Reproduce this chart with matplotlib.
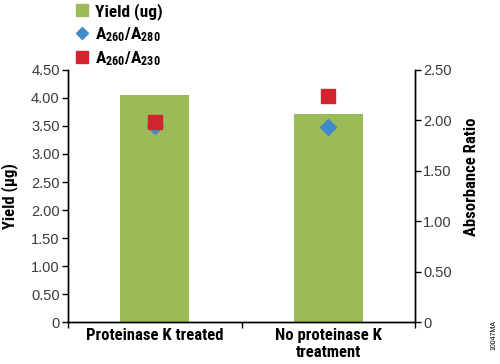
import matplotlib
matplotlib.use("Agg")
import matplotlib.pyplot as plt
from matplotlib import font_manager
from matplotlib.lines import Line2D

# data
categories = ["Proteinase K treated", "No proteinase K\ntreatment"]
yield_ug = [4.05, 3.71]
a260_280 = [1.94, 1.93]
a260_230 = [1.98, 2.24]
left_ticks = [0, 0.5, 1.0, 1.5, 2.0, 2.5, 3.0, 3.5, 4.0, 4.5]
right_ticks = [0, 0.5, 1.0, 1.5, 2.0, 2.5]

green = "#9bbb59"
blue = "#428bca"
red = "#d2232e"

names = {f.name for f in font_manager.fontManager.ttflist}
bold_font = "DejaVu Sans"
for cand in ["Roboto Condensed", "Liberation Sans Narrow", "IBM Plex Sans Condensed",
             "Fira Sans Condensed", "Encode Sans Condensed"]:
    if cand in names:
        bold_font = cand
        break
tick_font = "Liberation Sans"

plt.rcParams["mathtext.fontset"] = "custom"
plt.rcParams["mathtext.rm"] = bold_font + ":bold"
plt.rcParams["mathtext.it"] = bold_font + ":bold"
plt.rcParams["mathtext.bf"] = bold_font + ":bold"

fig = plt.figure(figsize=(5, 3.64), dpi=100)
ax = fig.add_axes([0.136, 0.115, 0.694, 0.693])
ax2 = ax.twinx()

x = list(range(len(categories)))
ax.bar(x, yield_ug, width=0.4, color=green, zorder=2)
ax2.plot(x, a260_280, linestyle="none", marker="D", ms=8.5, color=blue, zorder=3)
ax2.plot(x, a260_230, linestyle="none", marker="s", ms=9.5, color=red, zorder=4)

ax.set_xlim(-0.5, 1.5)
ax.set_ylim(0, 4.5)
ax2.set_ylim(0, 2.5)

ax.set_yticks(left_ticks)
ax.set_yticklabels(["0"] + ["%.2f" % v for v in left_ticks[1:]])
ax2.set_yticks(right_ticks)
ax2.set_yticklabels(["0"] + ["%.2f" % v for v in right_ticks[1:]])

ax.set_xticks([-0.5, 0.5, 1.5])
ax.set_xticklabels([])
ax.set_xticks(x, minor=True)
ax.set_xticklabels(categories, minor=True, fontfamily=bold_font,
                   fontweight="bold", fontsize=12, linespacing=1.2)
ax.tick_params(axis="x", which="minor", length=0, pad=4)
ax.tick_params(axis="x", which="major", length=4, width=1, direction="out")

for a in (ax, ax2):
    a.tick_params(axis="y", length=4, width=1, direction="out", pad=2,
                  labelsize=10.5, labelcolor="#3a3a3a")
    for lab in a.get_yticklabels():
        lab.set_fontfamily(tick_font)
    a.spines["top"].set_visible(False)
    for s in ("left", "right", "bottom"):
        a.spines[s].set_linewidth(1)

ax.set_ylabel("Yield (µg)", fontfamily=bold_font, fontweight="bold", fontsize=12)
ax.yaxis.set_label_coords(-0.145, 0.5)
ax2.set_ylabel("Absorbance Ratio", fontfamily=bold_font, fontweight="bold",
               fontsize=12, rotation=90)
ax2.yaxis.set_label_coords(1.142, 0.575)

handles = [
    Line2D([], [], linestyle="none", marker="s", ms=8, color=green),
    Line2D([], [], linestyle="none", marker="D", ms=6.5, color=blue),
    Line2D([], [], linestyle="none", marker="s", ms=8, color=red),
]
labels = ["Yield (ug)", r"A$_{260}$/A$_{280}$", r"A$_{260}$/A$_{230}$"]
leg = fig.legend(handles, labels, loc="upper left", bbox_to_anchor=(0.115, 1.035),
                 frameon=False, handletextpad=0.25, handlelength=1.0,
                 labelspacing=0.3, prop={"family": bold_font, "weight": "bold", "size": 12.5})

fig.text(0.987, 0.08, "10047MA", rotation=90, fontsize=5, fontfamily=tick_font,
         ha="center", va="center")

fig.savefig("out.png", dpi=100)
